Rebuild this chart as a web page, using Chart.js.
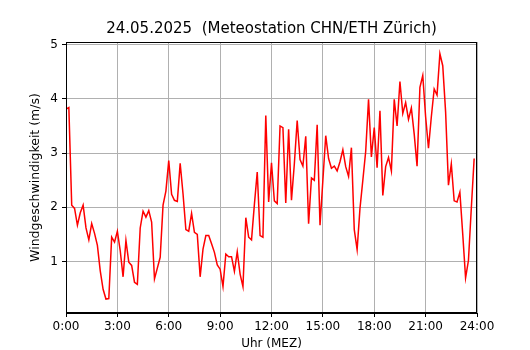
<!DOCTYPE html>
<html>
<head>
<meta charset="utf-8">
<script src="https://cdn.jsdelivr.net/npm/chart.js@4/dist/chart.umd.min.js"></script>
<style>
  html, body { margin: 0; padding: 0; background: #ffffff; }
  canvas { display: block; }
</style>
</head>
<body>
<canvas id="c" width="530" height="350"></canvas>
<script>
// Wind speed (m/s), 10-minute values, 24.05.2025, starting 0:00
const windSpeed = [
  3.81, 3.84, 2.04, 1.98, 1.67, 1.90, 2.04, 1.62, 1.40, 1.70, 1.52, 1.30,
  0.83, 0.49, 0.31, 0.32, 1.45, 1.36, 1.56, 1.20, 0.72, 1.39, 0.99, 0.93,
  0.62, 0.58, 1.62, 1.93, 1.82, 1.94, 1.73, 0.68, 0.88, 1.08, 2.04, 2.30,
  2.86, 2.24, 2.13, 2.11, 2.81, 2.25, 1.59, 1.56, 1.89, 1.54, 1.50, 0.72,
  1.23, 1.48, 1.48, 1.33, 1.17, 0.94, 0.86, 0.54, 1.14, 1.09, 1.09, 0.82,
  1.18, 0.77, 0.54, 1.81, 1.45, 1.40, 2.05, 2.65, 1.48, 1.45, 3.69, 2.10,
  2.82, 2.12, 2.07, 3.50, 3.47, 2.08, 3.44, 2.13, 2.80, 3.60, 2.88, 2.76,
  3.31, 1.70, 2.54, 2.50, 3.52, 1.67, 2.50, 3.32, 2.90, 2.72, 2.76, 2.67,
  2.84, 3.06, 2.75, 2.57, 3.10, 1.59, 1.22, 1.98, 2.50, 3.03, 3.99, 2.93,
  3.47, 2.73, 3.78, 2.22, 2.75, 2.92, 2.67, 3.99, 3.50, 4.32, 3.73, 3.93,
  3.62, 3.83, 3.35, 2.76, 4.21, 4.43, 3.67, 3.09, 3.67, 4.18, 4.07, 4.83,
  4.61, 3.76, 2.41, 2.80, 2.12, 2.10, 2.28, 1.51, 0.70, 1.02, 1.98, 2.90
];
// Time of each sample in hours
const timeHours = windSpeed.map((_, i) => i * 10 / 60);
const xTickHours = [0, 3, 6, 9, 12, 15, 18, 21, 24];
const xTickLabels = ['0:00', '3:00', '6:00', '9:00', '12:00', '15:00', '18:00', '21:00', '24:00'];
const yTickValues = [1, 2, 3, 4, 5];

const titleText = '24.05.2025  (Meteostation CHN/ETH Zürich)';
const xTitle = 'Uhr (MEZ)';
const yTitle = 'Windgeschwindigkeit (m/s)';

const FONT = 'DejaVu Sans';

const framePlugin = {
  id: 'frame',
  afterDraw(chart) {
    const a = chart.chartArea;
    const ctx = chart.ctx;
    ctx.save();
    ctx.strokeStyle = '#000000';
    ctx.lineWidth = 1;
    ctx.strokeRect(Math.round(a.left) + 0.5, Math.round(a.top) + 0.5,
                   Math.round(a.right - a.left) - 1, Math.round(a.bottom - a.top) - 1);
    // Title centred over the plot area
    ctx.fillStyle = '#000000';
    ctx.font = '15px "' + FONT + '"';
    ctx.textAlign = 'center';
    ctx.textBaseline = 'middle';
    ctx.fillText(titleText, (a.left + a.right) / 2, 29);
    ctx.restore();
  }
};

new Chart(document.getElementById('c'), {
  type: 'line',
  data: {
    datasets: [{
      data: timeHours.map((t, i) => ({ x: t, y: windSpeed[i] })),
      borderColor: '#ff0000',
      borderWidth: 1.5,
      pointRadius: 0,
      tension: 0,
      fill: false
    }]
  },
  options: {
    responsive: false,
    animation: false,
    devicePixelRatio: 1,
    layout: { padding: { left: 0, right: 53, top: 42, bottom: 0 } },
    plugins: {
      legend: { display: false },
      tooltip: { enabled: false },
      title: { display: false }
    },
    scales: {
      x: {
        type: 'linear',
        min: 0,
        max: 24,
        afterFit(scale) { scale.height = 37; },
        afterBuildTicks(scale) { scale.ticks = xTickHours.map(v => ({ value: v })); },
        ticks: {
          color: '#000000',
          font: { family: FONT, size: 12 },
          padding: 3,
          maxRotation: 0,
          autoSkip: false,
          callback: (v) => xTickLabels[xTickHours.indexOf(v)]
        },
        grid: { color: '#b0b0b0', lineWidth: 1, tickColor: '#000000', tickLength: 4 },
        border: { color: '#000000' },
        title: {
          display: true,
          text: xTitle,
          color: '#000000',
          font: { family: FONT, size: 12, lineHeight: 1 },
          padding: { top: 0, bottom: 0 }
        }
      },
      y: {
        type: 'linear',
        min: 0.053,
        max: 5.047,
        afterFit(scale) { scale.width = 66; },
        afterBuildTicks(scale) { scale.ticks = yTickValues.map(v => ({ value: v })); },
        ticks: {
          color: '#000000',
          font: { family: FONT, size: 12 },
          padding: 4,
          callback: (v) => String(v)
        },
        grid: { color: '#b0b0b0', lineWidth: 1, tickColor: '#000000', tickLength: 4 },
        border: { color: '#000000' },
        title: {
          display: true,
          text: yTitle,
          color: '#000000',
          font: { family: FONT, size: 12.5, lineHeight: 1 },
          padding: { top: 29.75, bottom: 0 }
        }
      }
    }
  },
  plugins: [framePlugin]
});
</script>
</body>
</html>
